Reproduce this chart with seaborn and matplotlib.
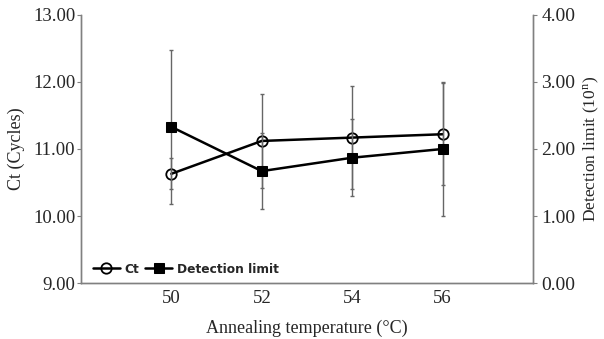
import numpy as np
import pandas as pd
import matplotlib
matplotlib.use("Agg")
import matplotlib.pyplot as plt
import seaborn as sns

# --- data ---
temps = [50, 52, 54, 56]
ct_vals = [10.63, 11.12, 11.17, 11.22]
ct_err = [0.23, 0.70, 0.77, 0.76]
dl_vals = [2.33, 1.67, 1.87, 2.00]
dl_err = [1.15, 0.57, 0.57, 1.00]
left_ticks = [9, 10, 11, 12, 13]
right_ticks = [0, 1, 2, 3, 4]

df = pd.DataFrame({"temp": temps, "ct": ct_vals, "ct_err": ct_err,
                   "dl": dl_vals, "dl_err": dl_err})

sns.set_style("white")
plt.rcParams["font.family"] = ["Liberation Serif", "DejaVu Serif"]
plt.rcParams["mathtext.fontset"] = "stix"

fig = plt.figure(figsize=(6.04, 3.39), dpi=100)
ax = fig.add_axes([0.134, 0.165, 0.7485, 0.791])
ax2 = ax.twinx()

grey = "#808080"
ebar = "#666666"
# error bars first, thin grey with tiny caps
ax.errorbar(df["temp"], df["ct"], yerr=df["ct_err"], fmt="none",
            ecolor=ebar, elinewidth=1.0, capsize=1.5, capthick=1.0, zorder=1)
ax2.errorbar(df["temp"], df["dl"], yerr=df["dl_err"], fmt="none",
             ecolor=ebar, elinewidth=1.0, capsize=1.5, capthick=1.0, zorder=1)

sns.lineplot(data=df, x="temp", y="ct", ax=ax, color="black", lw=1.8,
             marker="o", markersize=7.5, markerfacecolor="none",
             markeredgecolor="black", markeredgewidth=1.3, zorder=3,
             label="Ct", legend=False)
sns.lineplot(data=df, x="temp", y="dl", ax=ax2, color="black", lw=1.8,
             marker="s", markersize=7, markerfacecolor="black",
             markeredgecolor="black", zorder=3,
             label="Detection limit", legend=False)

ax.set_xlim(48, 58)
ax.set_ylim(9, 13)
ax2.set_ylim(0, 4)
ax.set_xticks(temps)
ax.set_yticks(left_ticks)
ax2.set_yticks(right_ticks)
ax.set_yticklabels([f"{v:.2f}" for v in left_ticks])
ax2.set_yticklabels([f"{v:.2f}" for v in right_ticks])

for a in (ax, ax2):
    a.spines["top"].set_visible(False)
    for s in ("left", "right", "bottom"):
        a.spines[s].set_color(grey)
        a.spines[s].set_linewidth(1.0)
ax.tick_params(axis="y", left=True, length=3, color=grey, labelsize=13.5, pad=1)
ax2.tick_params(axis="y", right=True, length=3, color=grey, labelsize=14, pad=3)
ax.tick_params(axis="x", bottom=False, length=0, labelsize=13.5, pad=5)

ax.set_xlabel("Annealing temperature (°C)", fontsize=13, labelpad=9)
ax.set_ylabel("Ct (Cycles)", fontsize=13, labelpad=6)
ax2.set_ylabel(r"Detection limit (10$^{\mathregular{n}}$)", fontsize=12.5, labelpad=5)

h1, l1 = ax.get_legend_handles_labels()
h2, l2 = ax2.get_legend_handles_labels()
leg = ax2.legend(h1 + h2, l1 + l2, loc="lower left", ncol=2, frameon=False,
                 handlelength=2.2, handletextpad=0.4, columnspacing=0.5,
                 borderaxespad=0.2, bbox_to_anchor=(0.01, 0.0),
                 prop={"family": "DejaVu Sans", "weight": "bold", "size": 8.8})

fig.savefig("out.png", dpi=100)
